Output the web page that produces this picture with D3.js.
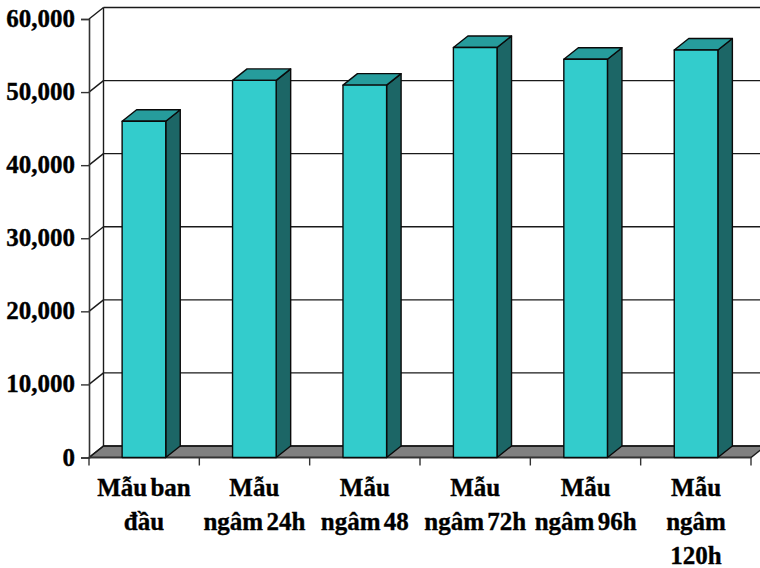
<!DOCTYPE html>
<html>
<head>
<meta charset="utf-8">
<script src="https://cdn.jsdelivr.net/npm/d3@7/dist/d3.min.js"></script>
<style>
html,body{margin:0;padding:0;background:#fff;overflow:hidden}
svg{display:block}
text{font-family:"Liberation Serif","Times New Roman",serif;font-weight:bold;fill:#000;stroke:#000;stroke-width:.35px}
</style>
</head>
<body>
<svg id="chart" width="760" height="568"></svg>
<script>
// Swelling samples, one 3D column per soaking time
const categories = ["Mẫu ban đầu","Mẫu ngâm 24h","Mẫu ngâm 48","Mẫu ngâm 72h","Mẫu ngâm 96h","Mẫu ngâm 120h"];
const categoryLines = [["Mẫu ban","đầu"],["Mẫu","ngâm 24h"],["Mẫu","ngâm 48"],["Mẫu","ngâm 72h"],["Mẫu","ngâm 96h"],["Mẫu","ngâm","120h"]];
const values = [46000,51600,50950,56100,54500,55750];
const yTicks = [0,10000,20000,30000,40000,50000,60000];

const svg = d3.select("#chart");
const plotLeft = 89, plotRight = 751, plotTop = 19, plotBottom = 457.5;
const depthX = 14.5, depthY = -11.5;

const x = d3.scaleBand().domain(categories).range([plotLeft,plotRight]).paddingInner(0.605).paddingOuter(0.3);
const step = (plotRight-plotLeft)/categories.length;
const y = d3.scaleLinear().domain([0,60000]).range([plotBottom,plotTop]);
const fmt = d3.format(",");
const ink = "#1a1a1a";

// Floor of the 3D box
svg.append("polygon")
  .attr("points",[[plotLeft,plotBottom],[plotLeft+depthX,plotBottom+depthY],[plotRight+depthX,plotBottom+depthY],[plotRight,plotBottom]].join(" "))
  .attr("fill","#808080").attr("stroke",ink).attr("stroke-width",1.4);

// Back wall: left edge, top edge and gridlines
const grid = svg.append("g").attr("stroke",ink).attr("stroke-width",1.4).attr("fill","none");
grid.append("line").attr("x1",plotLeft+depthX).attr("x2",plotLeft+depthX).attr("y1",y(60000)+depthY).attr("y2",y(0)+depthY);
grid.selectAll(".grid").data(yTicks).join("line").attr("class","grid")
  .attr("x1",plotLeft+depthX).attr("x2",plotRight+depthX)
  .attr("y1",d=>y(d)+depthY).attr("y2",d=>y(d)+depthY);
grid.selectAll(".diag").data(yTicks).join("line").attr("class","diag")
  .attr("x1",plotLeft).attr("x2",plotLeft+depthX)
  .attr("y1",d=>y(d)).attr("y2",d=>y(d)+depthY);

// Value axis
const yAxis = svg.append("g").attr("transform",`translate(${plotLeft},0)`)
  .call(d3.axisLeft(y).tickValues(yTicks).tickFormat(fmt).tickSize(8).tickPadding(6));
yAxis.select(".domain").attr("stroke","#333").attr("stroke-width",1.6);
yAxis.selectAll(".tick line").attr("stroke","#333").attr("stroke-width",1.4);
yAxis.selectAll("text").attr("font-size",25).attr("fill","#000").attr("dy","0.3em");
yAxis.attr("font-family",null).attr("font-size",null);

// Category axis line and the ticks between categories
svg.append("line").attr("x1",plotLeft).attr("x2",plotRight).attr("y1",plotBottom).attr("y2",plotBottom)
  .attr("stroke","#333").attr("stroke-width",1.6);
svg.append("g").selectAll("line").data(d3.range(categories.length+1)).join("line")
  .attr("x1",i=>plotLeft+i*step).attr("x2",i=>plotLeft+i*step)
  .attr("y1",plotBottom).attr("y2",plotBottom+8)
  .attr("stroke","#333").attr("stroke-width",1.4);

// Columns: side, top, then front face
const bars = svg.append("g").selectAll("g").data(categories.map((c,i)=>({c,v:values[i]}))).join("g")
  .attr("stroke","#0a0a0a").attr("stroke-width",1.4).attr("stroke-linejoin","round");
const bw = x.bandwidth();
bars.append("polygon").attr("fill","#1c6666")
  .attr("points",d=>{const r=x(d.c)+bw,t=y(d.v);return [[r,t],[r+depthX,t+depthY],[r+depthX,plotBottom+depthY],[r,plotBottom]].join(" ");});
bars.append("polygon").attr("fill","#269c9c")
  .attr("points",d=>{const l=x(d.c),r=l+bw,t=y(d.v);return [[l,t],[l+depthX,t+depthY],[r+depthX,t+depthY],[r,t]].join(" ");});
bars.append("rect").attr("fill","#33cccc")
  .attr("x",d=>x(d.c)).attr("width",bw)
  .attr("y",d=>y(d.v)).attr("height",d=>plotBottom-y(d.v));

// Category labels, wrapped over up to three lines
const labels = svg.append("g").attr("text-anchor","middle").attr("font-size",25).attr("word-spacing",-3);
categories.forEach((c,i)=>{
  const t = labels.append("text").attr("x",x(c)+bw/2);
  categoryLines[i].forEach((line,j)=>{
    t.append("tspan").attr("x",x(c)+bw/2).attr("y",496+j*34).text(line);
  });
});
</script>
</body>
</html>
